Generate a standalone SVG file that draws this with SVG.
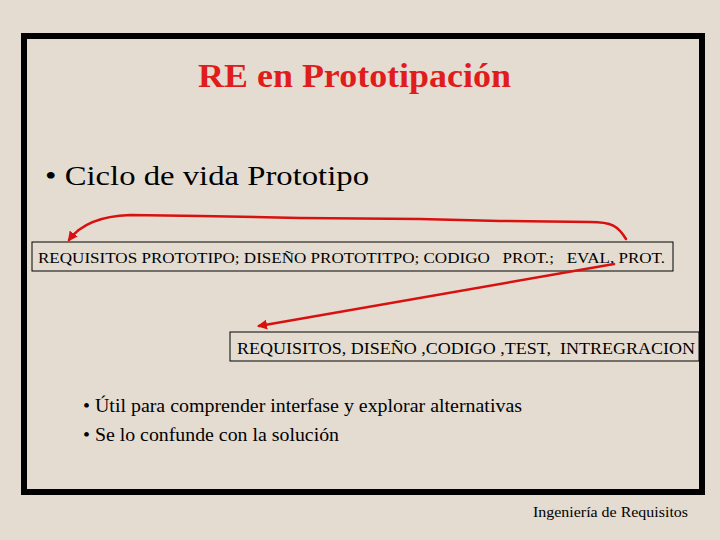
<svg xmlns="http://www.w3.org/2000/svg" width="720" height="540" viewBox="0 0 720 540">
<style>
.box{fill:none;stroke:#000;stroke-width:1}
.arr{fill:none;stroke:#d81010;stroke-width:2.5;stroke-linecap:round}
</style>
<defs>
<marker id="ah" viewBox="0 0 10 10" refX="8" refY="5" markerWidth="4" markerHeight="4" orient="auto" markerUnits="strokeWidth">
<path d="M0,0 L10,5 L0,10 z" fill="#d81010"/>
</marker>
</defs>
<rect width="720" height="540" fill="#e4dcd1"/>
<rect x="24" y="36" width="678" height="456" fill="none" stroke="#000" stroke-width="6"/>
<g font-family="Liberation Serif, Tinos, DejaVu Serif, serif" fill="#000">
<text x="198" y="87" font-size="33" font-weight="bold" textLength="313" lengthAdjust="spacingAndGlyphs" fill="#e01c1c">RE en Prototipación</text>
<text x="45" y="185" font-size="28" textLength="324" lengthAdjust="spacingAndGlyphs">• Ciclo de vida Prototipo</text>
<g id="node1">
<rect class="box" x="32" y="242" width="641" height="29"/>
<text x="38" y="263" font-size="14" textLength="627" lengthAdjust="spacingAndGlyphs" xml:space="preserve">REQUISITOS PROTOTIPO; DISEÑO PROTOTITPO; CODIGO   PROT.;   EVAL, PROT.</text>
</g>
<g id="node2">
<rect class="box" x="230" y="332" width="469" height="29"/>
<text x="237" y="354" font-size="17" textLength="458" lengthAdjust="spacingAndGlyphs" xml:space="preserve">REQUISITOS, DISEÑO ,CODIGO ,TEST,  INTREGRACION</text>
</g>
<text x="83" y="412" font-size="18" textLength="439" lengthAdjust="spacingAndGlyphs">• Útil para comprender interfase y explorar alternativas</text>
<text x="83" y="441" font-size="18" textLength="256" lengthAdjust="spacingAndGlyphs">• Se lo confunde con la solución</text>
<text x="533" y="517" font-size="14" textLength="155" lengthAdjust="spacingAndGlyphs">Ingeniería de Requisitos</text>
</g>
<g id="connectors">
<path class="arr" marker-end="url(#ah)" d="M626,239 C618,226 612,222 590,222 L500,221 L420,219 L300,218 L200,216 L130,215 C100,216 80,225 69,240"/>
<path class="arr" marker-end="url(#ah)" d="M614,264 L259,326"/>
</g>
</svg>
